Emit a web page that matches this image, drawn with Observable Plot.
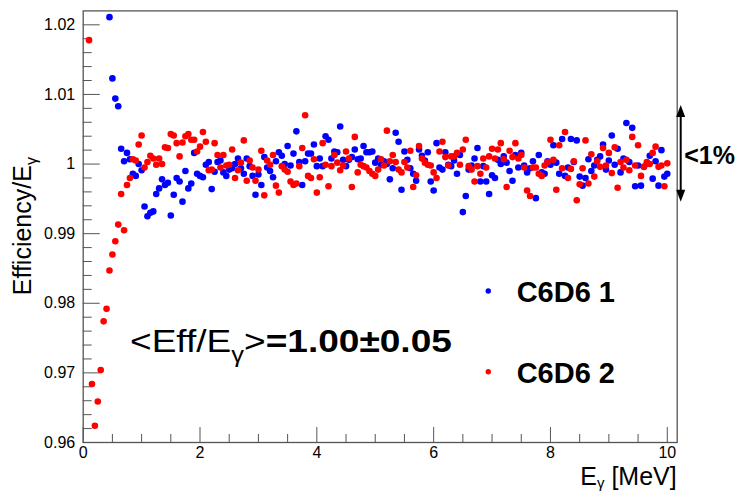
<!DOCTYPE html>
<html><head><meta charset="utf-8">
<script src="https://cdn.jsdelivr.net/npm/d3@7"></script>
<script src="https://cdn.jsdelivr.net/npm/@observablehq/plot@0.6"></script>
<style>html,body{margin:0;padding:0;background:#fff}svg{display:block}</style>
</head><body><div id="chart"></div>
<script>
// Photon energy (MeV), bin centres
const energy = [
0.1,0.15,0.2,0.25,0.3,0.35,0.4,0.45,0.5,0.55,0.6,0.65,0.7,0.75,0.8,0.85,0.9,0.95,1,1.05,
1.1,1.15,1.2,1.25,1.3,1.35,1.4,1.45,1.5,1.55,1.6,1.65,1.7,1.75,1.8,1.85,1.9,1.95,2,2.05,
2.1,2.15,2.2,2.25,2.3,2.35,2.4,2.45,2.5,2.55,2.6,2.65,2.7,2.75,2.8,2.85,2.9,2.95,3,3.05,
3.1,3.15,3.2,3.25,3.3,3.35,3.4,3.45,3.5,3.55,3.6,3.65,3.7,3.75,3.8,3.85,3.9,3.95,4,4.05,
4.1,4.15,4.2,4.25,4.3,4.35,4.4,4.45,4.5,4.55,4.6,4.65,4.7,4.75,4.8,4.85,4.9,4.95,5,5.05,
5.1,5.15,5.2,5.25,5.3,5.35,5.4,5.45,5.5,5.55,5.6,5.65,5.7,5.75,5.8,5.85,5.9,5.95,6,6.05,
6.1,6.15,6.2,6.25,6.3,6.35,6.4,6.45,6.5,6.55,6.6,6.65,6.7,6.75,6.8,6.85,6.9,6.95,7,7.05,
7.1,7.15,7.2,7.25,7.3,7.35,7.4,7.45,7.5,7.55,7.6,7.65,7.7,7.75,7.8,7.85,7.9,7.95,8,8.05,
8.1,8.15,8.2,8.25,8.3,8.35,8.4,8.45,8.5,8.55,8.6,8.65,8.7,8.75,8.8,8.85,8.9,8.95,9,9.05,
9.1,9.15,9.2,9.25,9.3,9.35,9.4,9.45,9.5,9.55,9.6,9.65,9.7,9.75,9.8,9.85,9.9,9.95,10
];
// Efficiency / E_gamma, detector C6D6 1 (blue)
const c6d6_1 = [
null,null,null,null,null,null,null,1.0211,1.0123,1.0094,1.0083,1.0022,1.0004,1.0016,1.0007,0.9986,0.9983,1.0000,0.9991,0.9939,
0.9925,0.9930,0.9932,0.9957,0.9965,0.9978,0.9970,0.9973,0.9926,0.9956,0.9980,0.9975,0.9946,0.9990,0.9965,0.9972,1.0016,0.9986,0.9983,0.9981,
0.9999,1.0003,0.9964,0.9989,1.0003,1.0005,0.9988,0.9983,0.9992,0.9994,1.0000,1.0008,0.9994,0.9986,1.0008,0.9997,0.9983,0.9956,0.9985,0.9970,
1.0010,0.9995,0.9990,0.9981,1.0004,1.0017,1.0012,1.0000,1.0026,0.9998,1.0015,1.0047,1.0003,0.9970,1.0004,1.0015,1.0015,1.0028,0.9997,1.0008,
0.9997,1.0040,1.0035,1.0008,1.0018,1.0017,1.0054,1.0006,0.9997,1.0006,1.0010,1.0021,1.0007,1.0008,1.0026,1.0017,1.0017,1.0018,1.0002,1.0008,
0.9999,1.0004,1.0000,0.9978,0.9994,1.0045,1.0032,0.9963,1.0018,1.0006,0.9994,0.9986,0.9976,1.0021,1.0012,1.0005,1.0017,0.9975,0.9962,1.0030,
0.9995,0.9992,1.0017,0.9999,0.9997,1.0005,0.9986,1.0013,0.9931,0.9954,0.9992,0.9998,1.0008,1.0023,0.9975,0.9997,0.9975,0.9957,0.9984,0.9980,
1.0006,1.0000,1.0011,1.0002,0.9990,0.9976,1.0013,0.9995,1.0016,0.9998,0.9988,0.9994,1.0004,0.9951,1.0013,0.9988,0.9986,1.0004,0.9999,1.0027,
1.0002,0.9986,1.0036,0.9983,0.9995,1.0036,1.0003,1.0034,0.9982,0.9969,0.9980,1.0007,0.9990,0.9998,1.0006,1.0011,1.0028,0.9992,1.0005,1.0041,
0.9999,1.0022,0.9988,1.0008,1.0059,1.0003,1.0052,0.9968,0.9998,0.9969,0.9996,1.0000,1.0012,0.9979,1.0004,0.9969,1.0020,0.9982,0.9986
];
// Efficiency / E_gamma, detector C6D6 2 (red)
const c6d6_2 = [
1.0178,0.9684,0.9624,0.9659,0.9704,0.9774,0.9792,0.9847,0.9870,0.9889,0.9913,0.9957,0.9905,0.9970,0.9980,1.0007,1.0005,1.0028,1.0041,0.9995,
1.0003,1.0012,1.0008,0.9999,1.0008,1.0000,1.0024,1.0023,1.0043,1.0041,1.0030,1.0011,1.0031,1.0040,1.0043,1.0035,1.0035,1.0018,1.0025,1.0046,
1.0032,0.9991,0.9992,1.0030,1.0013,0.9995,1.0013,0.9998,0.9999,1.0021,0.9980,0.9991,1.0002,1.0034,0.9976,1.0005,0.9995,0.9976,0.9992,1.0019,
0.9955,1.0005,0.9999,1.0013,0.9969,0.9959,0.9997,0.9992,0.9989,0.9975,0.9970,0.9972,0.9997,1.0023,1.0070,0.9983,0.9980,1.0007,0.9959,0.9981,
1.0030,0.9999,0.9968,0.9997,1.0013,1.0002,0.9991,0.9998,1.0018,1.0008,0.9967,1.0039,0.9988,0.9999,0.9997,0.9995,0.9990,0.9986,0.9983,0.9992,
1.0007,0.9998,1.0048,1.0004,1.0013,1.0003,0.9992,0.9988,1.0003,0.9995,1.0019,0.9967,0.9984,1.0026,1.0008,1.0002,0.9999,0.9998,0.9988,0.9980,
1.0018,1.0032,1.0010,0.9998,1.0011,1.0011,1.0016,0.9999,1.0021,1.0035,0.9997,0.9992,0.9975,0.9997,0.9986,1.0008,0.9995,1.0011,1.0022,1.0008,
1.0021,1.0030,1.0007,0.9967,1.0019,1.0010,1.0030,1.0008,1.0013,0.9995,0.9962,0.9954,0.9995,0.9995,0.9986,0.9983,0.9998,1.0003,1.0035,1.0006,
0.9963,1.0027,0.9994,1.0046,0.9980,0.9993,1.0004,0.9948,0.9971,0.9994,1.0034,0.9972,1.0014,0.9982,1.0004,0.9996,1.0023,0.9998,1.0016,0.9987,
1.0024,0.9966,1.0003,0.9995,1.0006,0.9991,1.0039,0.9998,1.0027,0.9983,0.9996,1.0003,1.0000,1.0016,1.0025,0.9996,0.9998,0.9968,1.0001
];
const seriesNames = ["C6D6 1", "C6D6 2"];
const seriesColors = ["#0000ff", "#ff0000"];
const xMajorTicks = [0, 2, 4, 6, 8, 10];
const xTickLabels = ["0", "2", "4", "6", "8", "10"];
const xMinorTicks = [0.5,1,1.5,2.5,3,3.5,4.5,5,5.5,6.5,7,7.5,8.5,9,9.5];
const yMajorTicks = [0.96, 0.97, 0.98, 0.99, 1.00, 1.01, 1.02];
const yTickLabels = ["0.96", "0.97", "0.98", "0.99", "1", "1.01", "1.02"];
const yMinorTicks = [0.962,0.964,0.966,0.968,0.972,0.974,0.976,0.978,0.982,0.984,0.986,0.988,
  0.992,0.994,0.996,0.998,1.002,1.004,1.006,1.008,1.012,1.014,1.016,1.018];
const meanText = ["<Eff/E", "γ", ">", "=1.00±0.05"];
const bandText = "<1%";
const band = [0.99451, 1.0084];

const font = "'Liberation Sans', Arial, Helvetica, sans-serif";
const s1 = energy.map((e, i) => ({e, v: c6d6_1[i]})).filter(d => d.v != null);
const s2 = energy.map((e, i) => ({e, v: c6d6_2[i]})).filter(d => d.v != null);
const xLab = new Map(xMajorTicks.map((t, i) => [t, xTickLabels[i]]));
const yLab = new Map(yMajorTicks.map((t, i) => [t, yTickLabels[i]]));
const axisColor = "#555";

const plot = Plot.plot({
  width: 741, height: 493,
  marginLeft: 82.7, marginRight: 64.3, marginTop: 10.4, marginBottom: 51,
  style: {fontFamily: font, background: "#fff", color: "#000", overflow: "visible"},
  x: {domain: [0, 10.17]},
  y: {domain: [0.96, 1.022]},
  marks: [
    Plot.axisX(xMajorTicks, {anchor: "bottom", tickSize: 0, tickPadding: 4, fontSize: 16, tickFormat: d => xLab.get(d), label: null, fill: "#000"}),
    Plot.axisX(xMajorTicks, {anchor: "bottom", tickSize: -15, tickFormat: () => "", label: null, stroke: axisColor}),
    Plot.axisX(xMinorTicks, {anchor: "bottom", tickSize: -8, tickFormat: () => "", label: null, stroke: axisColor}),
    Plot.axisY(yMajorTicks, {anchor: "left", tickSize: 0, tickPadding: 8, fontSize: 16, tickFormat: d => yLab.get(d), label: null, fill: "#000"}),
    Plot.axisY(yMajorTicks, {anchor: "left", tickSize: -17, tickFormat: () => "", label: null, stroke: axisColor}),
    Plot.axisY(yMinorTicks, {anchor: "left", tickSize: -9, tickFormat: () => "", label: null, stroke: axisColor}),
    Plot.frame({stroke: axisColor, strokeWidth: 1.3}),
    Plot.dot(s1, {x: "e", y: "v", r: 3.3, fill: seriesColors[0], stroke: null}),
    Plot.dot(s2, {x: "e", y: "v", r: 3.3, fill: seriesColors[1], stroke: null})
  ]
});
document.getElementById("chart").appendChild(plot);

const sx = plot.scale("x").apply, sy = plot.scale("y").apply;
const svg = d3.select(plot);
const x0 = sx(0), x1 = sx(10.17), yb = sy(0.96), yt = sy(1.022);
const txt = () => svg.append("text").attr("font-family", font).attr("fill", "#000").attr("text-anchor", "start");

// Axis titles
const xt = txt().attr("x", x1).attr("y", yb + 43).attr("text-anchor", "end").attr("font-size", 25);
xt.append("tspan").text("E");
xt.append("tspan").attr("font-size", 15).attr("dy", 3).text("γ");
xt.append("tspan").attr("dy", -3).text(" [MeV]");

const yt2 = txt().attr("transform", `translate(${x0 - 52},${(yb + yt) / 2}) rotate(-90)`)
  .attr("text-anchor", "middle").attr("font-size", 25);
yt2.append("tspan").text("Efficiency/E");
yt2.append("tspan").attr("font-size", 16).attr("dy", 6).text("γ");

// Legend
const legY = [0.9817, 0.9701];
seriesNames.forEach((name, i) => {
  const cy = sy(legY[i]);
  svg.append("circle").attr("cx", sx(6.944)).attr("cy", cy).attr("r", 2.7).attr("fill", seriesColors[i]);
  txt().attr("x", sx(7.43)).attr("y", cy + 11).attr("font-size", 29).attr("font-weight", "bold").text(name);
});

// Mean annotation
const ax = sx(0.81), ay = sy(0.97296);
const ann = txt().attr("x", ax).attr("y", ay).attr("font-size", 32);
ann.append("tspan").text(meanText[0]);
ann.append("tspan").attr("font-size", 22).attr("dy", 10).text(meanText[1]);
ann.append("tspan").attr("dy", -10).text(meanText[2]);
ann.append("tspan").attr("font-weight", "bold").text(meanText[3]);
const w = ann.node().getBBox().width;
const k = 322 / w;
ann.attr("transform", `translate(${ax},${ay}) scale(${k},1) translate(${-ax},${-ay})`);

// Band arrow (<1%)
const axp = x1 + 4, ya = sy(band[1]), yb2 = sy(band[0]);
svg.append("line").attr("x1", axp).attr("x2", axp).attr("y1", ya + 8).attr("y2", yb2 - 8)
  .attr("stroke", "#000").attr("stroke-width", 2);
svg.append("path").attr("d", `M${axp},${ya} L${axp - 4.5},${ya + 12} L${axp + 4.5},${ya + 12} Z`).attr("fill", "#000");
svg.append("path").attr("d", `M${axp},${yb2} L${axp - 4.5},${yb2 - 12} L${axp + 4.5},${yb2 - 12} Z`).attr("fill", "#000");
txt().attr("x", axp + 3.5).attr("y", sy(1.0)).attr("font-size", 25).attr("font-weight", "bold").text(bandText);
</script>
</body></html>
